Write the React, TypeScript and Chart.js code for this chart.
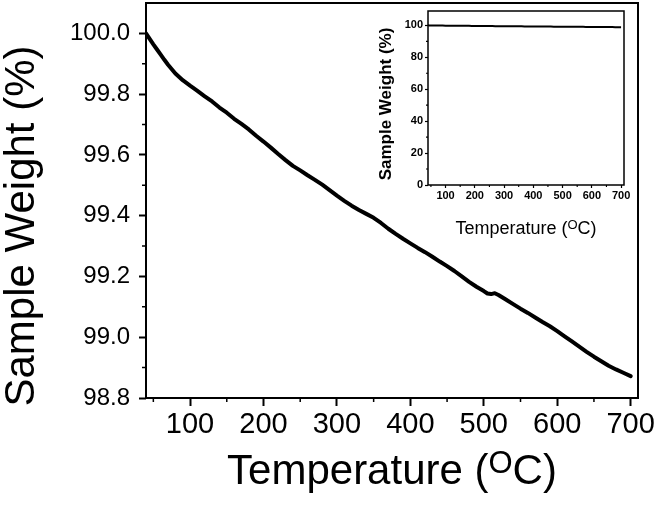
import React, { useEffect, useRef } from "react";
import { Chart, registerables } from "chart.js";

Chart.register(...registerables);

const TEMPERATURES = [
  40, 45, 50, 55, 60, 65, 70, 80, 90, 100, 110, 120, 130, 140, 150, 160, 170, 180, 190, 200,
  210, 220, 230, 240, 250, 260, 270, 280, 290, 300, 310, 320, 330, 340, 350, 360, 370, 380, 390, 400,
  410, 420, 430, 440, 450, 460, 470, 480, 490, 500, 505, 510, 515, 520, 530, 540, 550, 560, 570, 580,
  590, 600, 610, 620, 630, 640, 650, 660, 670, 680, 690, 700,
];
const WEIGHTS = [
  100.0, 99.982, 99.964, 99.947, 99.93, 99.913, 99.897, 99.868, 99.846, 99.828, 99.811, 99.793, 99.776, 99.756, 99.739, 99.719, 99.702, 99.684, 99.663, 99.644,
  99.624, 99.603, 99.583, 99.564, 99.549, 99.533, 99.518, 99.502, 99.484, 99.466, 99.449, 99.433, 99.419, 99.406, 99.393, 99.376, 99.357, 99.34, 99.324, 99.309,
  99.294, 99.28, 99.265, 99.249, 99.234, 99.218, 99.2, 99.182, 99.166, 99.152, 99.144, 99.142, 99.145, 99.139, 99.124, 99.109, 99.094, 99.08, 99.065, 99.05,
  99.036, 99.02, 99.003, 98.986, 98.969, 98.952, 98.936, 98.921, 98.906, 98.894, 98.883, 98.872,
];

const MAIN_Y_TICKS = [98.8, 99.0, 99.2, 99.4, 99.6, 99.8, 100.0];
const MAIN_Y_MINOR = [98.9, 99.1, 99.3, 99.5, 99.7, 99.9];
const X_TICKS = [100, 200, 300, 400, 500, 600, 700];
const X_MINOR = [50, 150, 250, 350, 450, 550, 650];
const INSET_Y_TICKS = [0, 20, 40, 60, 80, 100];
const INSET_Y_MINOR = [10, 30, 50, 70, 90];

const Y_TITLE = "Sample Weight (%)";
const X_TITLE_PARTS = ["Temperature (", "O", "C)"];

const FONT = "'Liberation Sans', Arial, Helvetica, sans-serif";

type TitleCfg = {
  yTitleX: number;
  yTitleY: number;
  yFont: string;
  xCenter: number;
  xBase: number;
  xFont: string;
  supFont: string;
  supBase: number;
};

function makePlugin(
  yMinor: number[],
  xMinor: number[],
  minorLen: number,
  frameWidth: number,
  t: TitleCfg
) {
  return {
    id: "decor",
    afterDraw(chart: any) {
      const ctx = chart.ctx;
      const a = chart.chartArea;
      const xs = chart.scales.x;
      const ys = chart.scales.y;
      ctx.save();
      ctx.strokeStyle = "#000";
      ctx.lineWidth = frameWidth;
      ctx.strokeRect(a.left, a.top, a.right - a.left, a.bottom - a.top);
      ctx.lineWidth = frameWidth * 0.75;
      ctx.beginPath();
      yMinor.forEach((v) => {
        const p = ys.getPixelForValue(v);
        ctx.moveTo(a.left, p);
        ctx.lineTo(a.left - minorLen, p);
      });
      xMinor.forEach((v) => {
        const p = xs.getPixelForValue(v);
        ctx.moveTo(p, a.bottom);
        ctx.lineTo(p, a.bottom + minorLen);
      });
      ctx.stroke();

      ctx.fillStyle = "#000";
      ctx.save();
      ctx.translate(t.yTitleX, t.yTitleY);
      ctx.rotate(-Math.PI / 2);
      ctx.font = t.yFont;
      ctx.textAlign = "center";
      ctx.textBaseline = "alphabetic";
      ctx.fillText(Y_TITLE, 0, 0);
      ctx.restore();

      ctx.textAlign = "left";
      ctx.textBaseline = "alphabetic";
      ctx.font = t.xFont;
      const w1 = ctx.measureText(X_TITLE_PARTS[0]).width;
      const w3 = ctx.measureText(X_TITLE_PARTS[2]).width;
      ctx.font = t.supFont;
      const w2 = ctx.measureText(X_TITLE_PARTS[1]).width;
      const total = w1 + w2 + w3;
      const x0 = t.xCenter - total / 2;
      ctx.font = t.xFont;
      ctx.fillText(X_TITLE_PARTS[0], x0, t.xBase);
      ctx.font = t.supFont;
      ctx.fillText(X_TITLE_PARTS[1], x0 + w1, t.supBase);
      ctx.font = t.xFont;
      ctx.fillText(X_TITLE_PARTS[2], x0 + w1 + w2, t.xBase);
      ctx.restore();
    },
  };
}

function fixHeight(h: number) {
  return (s: any) => {
    s.height = h;
    s.paddingLeft = 0;
    s.paddingRight = 0;
    s.paddingTop = 0;
    s.paddingBottom = 0;
  };
}
function fixWidth(w: number) {
  return (s: any) => {
    s.width = w;
    s.paddingLeft = 0;
    s.paddingRight = 0;
    s.paddingTop = 0;
    s.paddingBottom = 0;
  };
}

export default function App() {
  const mainRef = useRef<HTMLCanvasElement | null>(null);
  const insetRef = useRef<HTMLCanvasElement | null>(null);

  useEffect(() => {
    const points = TEMPERATURES.map((tv, i) => ({ x: tv, y: WEIGHTS[i] }));

    const main = new Chart(mainRef.current as HTMLCanvasElement, {
      type: "line",
      data: {
        datasets: [
          {
            data: points,
            borderColor: "#000",
            borderWidth: 4,
            pointRadius: 0,
            tension: 0,
            borderJoinStyle: "round",
            borderCapStyle: "round",
          },
        ],
      },
      options: {
        animation: false,
        responsive: false,
        devicePixelRatio: 1,
        layout: { padding: { top: 3, right: 23, left: 0, bottom: 0 } },
        plugins: { legend: { display: false }, tooltip: { enabled: false } },
        scales: {
          x: {
            type: "linear",
            min: 40,
            max: 710,
            afterFit: fixHeight(124),
            afterBuildTicks: (s: any) => {
              s.ticks = X_TICKS.map((v) => ({ value: v }));
            },
            border: { display: false },
            grid: { drawOnChartArea: false, tickLength: 8, tickWidth: 2, tickColor: "#000" },
            ticks: {
              color: "#000",
              font: { family: FONT, size: 29 },
              padding: 2,
              maxRotation: 0,
              autoSkip: false,
            },
          },
          y: {
            type: "linear",
            min: 98.8,
            max: 100.1,
            afterFit: fixWidth(146),
            afterBuildTicks: (s: any) => {
              s.ticks = MAIN_Y_TICKS.map((v) => ({ value: v }));
            },
            border: { display: false },
            grid: { drawOnChartArea: false, tickLength: 7, tickWidth: 2, tickColor: "#000" },
            ticks: {
              color: "#000",
              font: { family: FONT, size: 24 },
              padding: 9,
              autoSkip: false,
              callback: (v: any) => Number(v).toFixed(1),
            },
          },
        },
      },
      plugins: [
        makePlugin(MAIN_Y_MINOR, X_MINOR, 4, 2, {
          yTitleX: 33.5,
          yTitleY: 226,
          yFont: `42px ${FONT}`,
          xCenter: 392,
          xBase: 483.5,
          xFont: `42px ${FONT}`,
          supFont: `31px ${FONT}`,
          supBase: 473,
        }),
      ],
    } as any);

    const inset = new Chart(insetRef.current as HTMLCanvasElement, {
      type: "line",
      data: {
        datasets: [
          {
            data: points,
            borderColor: "#000",
            borderWidth: 2,
            pointRadius: 0,
            tension: 0,
          },
        ],
      },
      options: {
        animation: false,
        responsive: false,
        devicePixelRatio: 1,
        layout: { padding: { top: 11, right: 26, left: 0, bottom: 0 } },
        plugins: { legend: { display: false }, tooltip: { enabled: false } },
        scales: {
          x: {
            type: "linear",
            min: 40,
            max: 710,
            afterFit: fixHeight(65),
            afterBuildTicks: (s: any) => {
              s.ticks = X_TICKS.map((v) => ({ value: v }));
            },
            border: { display: false },
            grid: { drawOnChartArea: false, tickLength: 3, tickWidth: 1.2, tickColor: "#000" },
            ticks: {
              color: "#000",
              font: { family: FONT, size: 11, weight: "bold" },
              padding: 1,
              maxRotation: 0,
              autoSkip: false,
            },
          },
          y: {
            type: "linear",
            min: 0,
            max: 109,
            afterFit: fixWidth(68),
            afterBuildTicks: (s: any) => {
              s.ticks = INSET_Y_TICKS.map((v) => ({ value: v }));
            },
            border: { display: false },
            grid: { drawOnChartArea: false, tickLength: 3, tickWidth: 1.2, tickColor: "#000" },
            ticks: {
              color: "#000",
              font: { family: FONT, size: 11, weight: "bold" },
              padding: 2,
              autoSkip: false,
            },
          },
        },
      },
      plugins: [
        makePlugin(INSET_Y_MINOR, X_MINOR, 2, 1.5, {
          yTitleX: 30.5,
          yTitleY: 104,
          yFont: `bold 17px ${FONT}`,
          xCenter: 166,
          xBase: 233.5,
          xFont: `18px ${FONT}`,
          supFont: `13px ${FONT}`,
          supBase: 228.5,
        }),
      ],
    } as any);

    return () => {
      main.destroy();
      inset.destroy();
    };
  }, []);

  return (
    <div style={{ position: "fixed", left: 0, top: 0, width: 661, height: 522, background: "#fff" }}>
      <canvas
        ref={mainRef}
        width={661}
        height={522}
        style={{ position: "absolute", left: 0, top: 0, width: 661, height: 522 }}
      />
      <canvas
        ref={insetRef}
        width={290}
        height={250}
        style={{ position: "absolute", left: 360, top: 0, width: 290, height: 250 }}
      />
    </div>
  );
}
